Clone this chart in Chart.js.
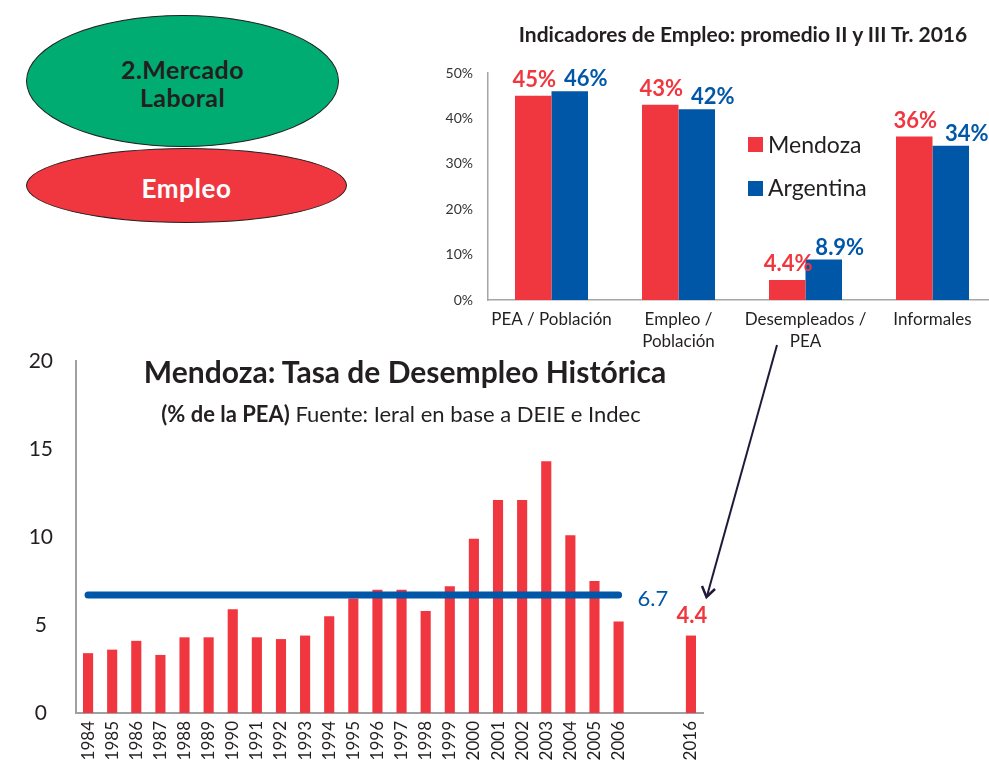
<!DOCTYPE html>
<html><head><meta charset="utf-8">
<script src="https://cdn.jsdelivr.net/npm/chart.js@4.4.1/dist/chart.umd.min.js"></script>
<style>
html,body{margin:0;padding:0;background:#fff;}
#wrap{position:relative;width:989px;height:765px;overflow:hidden;font-family:Lato,'Open Sans',sans-serif;color:#231f20;}
.t{position:absolute;white-space:nowrap;line-height:1.2;}
#topChart{position:absolute;left:420px;top:0;}
#bottomChart{position:absolute;left:0;top:340px;}
.ell{position:absolute;border:1.5px solid #231f20;border-radius:50%;box-sizing:border-box;display:flex;align-items:center;justify-content:center;text-align:center;font-weight:bold;}
.sq{position:absolute;width:15px;height:15px;}
</style></head>
<body><div id="wrap">
<div class="ell" style="left:26px;top:15px;width:313px;height:132px;background:#00AC72;color:#231f20;font-size:25px;line-height:28px;letter-spacing:0.4px;padding-top:4px;">2.Mercado<br>Laboral</div>
<div class="ell" style="left:26px;top:148px;width:321px;height:75px;background:#F0373F;color:#fff;font-size:26px;letter-spacing:0.6px;padding-top:4px;">Empleo</div>
<canvas id="topChart" width="576" height="360"></canvas>
<canvas id="bottomChart" width="989" height="425"></canvas>
<div class="t" style="left:443px;width:600px;text-align:center;top:21px;font-size:21px;font-weight:bold;">Indicadores de Empleo: promedio II y III Tr. 2016</div>
<div class="sq" style="left:748px;top:137px;background:#F0373F;"></div>
<div class="t" style="left:768px;top:131px;font-size:23px;">Mendoza</div>
<div class="sq" style="left:748px;top:181px;background:#0057A8;"></div>
<div class="t" style="left:768px;top:174px;font-size:23px;">Argentina</div>
<div class="t" style="left:105px;width:600px;text-align:center;top:353px;font-size:30px;font-weight:bold;">Mendoza: Tasa de Desempleo Histórica</div>
<div class="t" style="left:101px;width:600px;text-align:center;top:401px;font-size:22px;"><b>(% de la PEA)</b> Fuente: Ieral en base a DEIE e Indec</div>
<svg style="position:absolute;left:0;top:0;" width="989" height="765">
<line x1="777" y1="345" x2="707" y2="596" stroke="#1d1a3a" stroke-width="2"/>
<polyline points="702,586 706.5,597 715,589" fill="none" stroke="#1d1a3a" stroke-width="2.5" stroke-linejoin="miter"/>
</svg>
</div>
<script>
// ---- Top chart data ----
const indicadores = [['PEA / Población'], ['Empleo /', 'Población'], ['Desempleados /', 'PEA'], ['Informales']];
const mendoza = [45, 43, 4.4, 36];
const argentina = [46, 42, 8.9, 34];
const topTicks = [0, 10, 20, 30, 40, 50];

// ---- Bottom chart data ----
const years = ['1984','1985','1986','1987','1988','1989','1990','1991','1992','1993','1994','1995','1996','1997','1998','1999','2000','2001','2002','2003','2004','2005','2006','','','2016'];
const desempleo = [3.4, 3.6, 4.1, 3.3, 4.3, 4.3, 5.9, 4.3, 4.2, 4.4, 5.5, 6.5, 7.0, 7.0, 5.8, 7.2, 9.9, 12.1, 12.1, 14.3, 10.1, 7.5, 5.2, null, null, 4.4];
const promedio = [6.7, 6.7, 6.7, 6.7, 6.7, 6.7, 6.7, 6.7, 6.7, 6.7, 6.7, 6.7, 6.7, 6.7, 6.7, 6.7, 6.7, 6.7, 6.7, 6.7, 6.7, 6.7, 6.7, null, null, null];
const labeledYears = ['2016'];
const bottomTicks = [0, 5, 10, 15, 20];

const RED = '#F0373F', BLUE = '#0057A8', INK = '#231f20';
const TOP_LABEL_STYLE = [{dx: 1, gap: 9}, {dx: 16, gap: 5}];

const topLabels = {
  id: 'topLabels',
  afterDatasetsDraw(chart) {
    const ctx = chart.ctx;
    chart.data.datasets.forEach((ds, i) => {
      const meta = chart.getDatasetMeta(i);
      const st = TOP_LABEL_STYLE[i];
      meta.data.forEach((bar, j) => {
        const v = ds.data[j];
        const txt = (v < 10 ? v.toFixed(1) : String(Math.round(v))) + '%';
        ctx.save();
        ctx.font = 'bold 22px Lato';
        ctx.fillStyle = ds.backgroundColor;
        ctx.textAlign = 'center';
        ctx.textBaseline = 'alphabetic';
        ctx.fillText(txt, bar.x + st.dx, bar.y - st.gap);
        ctx.restore();
      });
    });
  }
};

function noPadY(s) { s.paddingTop = 0; s.paddingBottom = 0; }
function noPadX(s) { s.paddingLeft = 0; s.paddingRight = 0; }

new Chart(document.getElementById('topChart'), {
  type: 'bar',
  data: {
    labels: indicadores,
    datasets: [
      {label: 'Mendoza', data: mendoza, backgroundColor: RED, categoryPercentage: 0.575, barPercentage: 1},
      {label: 'Argentina', data: argentina, backgroundColor: BLUE, categoryPercentage: 0.575, barPercentage: 1}
    ]
  },
  options: {
    responsive: false, animation: false,
    layout: {padding: {top: 73, right: 0, left: 0, bottom: 0}},
    plugins: {legend: {display: false}, tooltip: {enabled: false}},
    scales: {
      x: {
        grid: {display: false, drawTicks: false},
        border: {display: true, color: '#A6A6A6', width: 1.5},
        ticks: {color: INK, font: {family: 'Lato', size: 17, lineHeight: 1.3}, padding: 8, maxRotation: 0, autoSkip: false},
        afterFit(s) { s.height = 60; noPadX(s); }
      },
      y: {
        min: 0, max: 50,
        afterBuildTicks(s) { s.ticks = topTicks.map(v => ({value: v})); },
        grid: {display: false, drawTicks: false},
        border: {display: true, color: '#A6A6A6', width: 1.5},
        ticks: {color: '#333', font: {family: 'Lato', size: 14}, padding: 15, callback: v => v + '%'},
        afterFit(s) { s.width = 68; noPadY(s); }
      }
    }
  },
  plugins: [topLabels]
});

const bottomLabels = {
  id: 'bottomLabels',
  afterDatasetsDraw(chart) {
    const ctx = chart.ctx;
    const barMeta = chart.getDatasetMeta(0);
    ctx.save();
    ctx.font = 'bold 22px Lato';
    ctx.fillStyle = RED;
    ctx.textAlign = 'center';
    ctx.textBaseline = 'alphabetic';
    years.forEach((y, j) => {
      if (labeledYears.includes(y) && desempleo[j] != null) {
        const el = barMeta.data[j];
        ctx.fillText(desempleo[j].toFixed(1), el.x + 1, el.y - 13);
      }
    });
    const lineMeta = chart.getDatasetMeta(1);
    let last = -1;
    promedio.forEach((v, j) => { if (v != null) last = j; });
    const pt = lineMeta.data[last];
    ctx.font = '22px Lato';
    ctx.fillStyle = BLUE;
    ctx.textAlign = 'left';
    ctx.fillText(promedio[last].toFixed(1), pt.x + 19, pt.y + 11);
    ctx.restore();
  }
};

new Chart(document.getElementById('bottomChart'), {
  type: 'bar',
  data: {
    labels: years,
    datasets: [
      {type: 'bar', data: desempleo, backgroundColor: RED, categoryPercentage: 1, barPercentage: 0.42, order: 2},
      {type: 'line', data: promedio, borderColor: BLUE, borderWidth: 7, borderCapStyle: 'round', pointRadius: 0, spanGaps: false, order: 1}
    ]
  },
  options: {
    responsive: false, animation: false,
    layout: {padding: {top: 21, right: 286, left: 0, bottom: 0}},
    plugins: {legend: {display: false}, tooltip: {enabled: false}},
    scales: {
      x: {
        grid: {display: false, drawTicks: false},
        border: {display: true, color: '#A0A0A0', width: 2},
        ticks: {color: INK, font: {family: 'Lato', size: 17}, padding: 8, minRotation: 90, maxRotation: 90, autoSkip: false},
        afterFit(s) { s.height = 52; noPadX(s); }
      },
      y: {
        min: 0, max: 20,
        afterBuildTicks(s) { s.ticks = bottomTicks.map(v => ({value: v})); },
        grid: {display: false, drawTicks: false},
        border: {display: true, color: '#A0A0A0', width: 2},
        ticks: {color: INK, font: {family: 'Lato', size: 21}, padding: 23, crossAlign: 'center'},
        afterFit(s) { s.width = 76; noPadY(s); }
      }
    }
  },
  plugins: [bottomLabels]
});
</script>
</body></html>
